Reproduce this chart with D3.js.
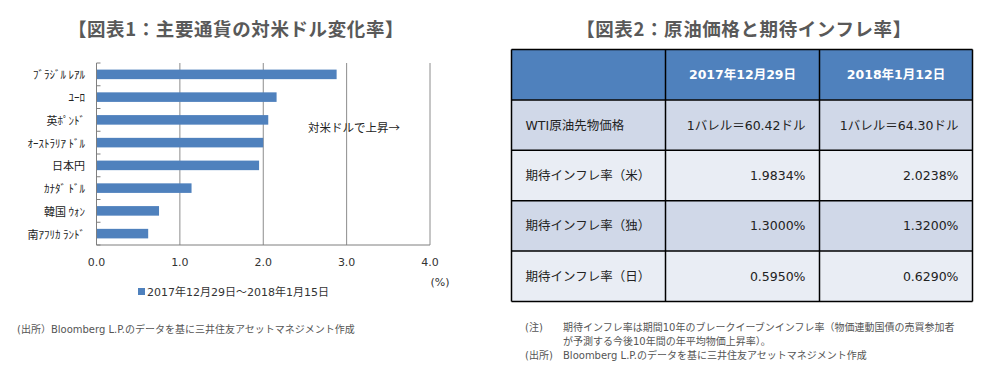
<!DOCTYPE html>
<html>
<head>
<meta charset="utf-8">
<script src="https://cdn.jsdelivr.net/npm/d3@7"></script>
<style>
  body { margin: 0; background: #fff; }
  svg text { font-family: "DejaVu Sans", "Noto Sans CJK JP", sans-serif; }
  svg text.cjk { font-family: "Noto Sans CJK JP", sans-serif; }
</style>
</head>
<body>
<svg id="chart" width="997" height="387"></svg>
<script>
// chart 1 data
const currencies = ["ﾌﾞﾗｼﾞﾙ ﾚｱﾙ", "ﾕｰﾛ", "英ﾎﾟﾝﾄﾞ", "ｵｰｽﾄﾗﾘｱ ﾄﾞﾙ", "日本円", "ｶﾅﾀﾞ ﾄﾞﾙ", "韓国 ｳｫﾝ", "南ｱﾌﾘｶ ﾗﾝﾄﾞ"];
const changes = [2.88, 2.16, 2.06, 2.00, 1.95, 1.14, 0.75, 0.62];
const xTicks = [0, 1, 2, 3, 4];
const legendLabel = "2017年12月29日～2018年1月15日";

// chart 2 table
const tableHeader = ["", "2017年12月29日", "2018年1月12日"];
const rowLabels = ["WTI原油先物価格", "期待インフレ率（米）", "期待インフレ率（独）", "期待インフレ率（日）"];
const col2017 = ["1バレル＝60.42ドル", "1.9834%", "1.3000%", "0.5950%"];
const col2018 = ["1バレル＝64.30ドル", "2.0238%", "1.3200%", "0.6290%"];

const svg = d3.select("#chart");
const blue = "#4f81bd";

// ---------- chart 1 ----------
svg.append("text")
    .attr("class", "cjk")
    .attr("x", 236).attr("y", 28)
    .attr("text-anchor", "middle").attr("dominant-baseline", "central")
    .attr("font-size", 18.5).attr("letter-spacing", 0.6)
    .attr("font-weight", "bold").attr("fill", "#595959")
    .text("【図表1：主要通貨の対米ドル変化率】");

const x = d3.scaleLinear().domain([0, 4]).range([96.5, 430]);
const y = d3.scaleBand().domain(currencies).range([63, 245]).paddingInner(0.58).paddingOuter(0.29);

const g1 = svg.append("g");

// gridlines
g1.selectAll(".grid")
    .data(xTicks.slice(1))
    .enter().append("line")
    .attr("x1", d => x(d)).attr("x2", d => x(d))
    .attr("y1", 63).attr("y2", 245)
    .attr("stroke", "#8c8c8c").attr("stroke-width", 1);

g1.selectAll(".bar")
    .data(changes)
    .enter().append("rect")
    .attr("x", x(0))
    .attr("y", (d, i) => y(currencies[i]))
    .attr("width", d => x(d) - x(0))
    .attr("height", y.bandwidth())
    .attr("fill", blue);

// y axis line and ticks
g1.append("line")
    .attr("x1", x(0)).attr("x2", x(0)).attr("y1", 63).attr("y2", 245)
    .attr("stroke", "#7f7f7f");
const step = y.step();
g1.selectAll(".ytick")
    .data(d3.range(currencies.length + 1))
    .enter().append("line")
    .attr("x1", x(0)).attr("x2", x(0) + 4)
    .attr("y1", i => 63 + i * step).attr("y2", i => 63 + i * step)
    .attr("stroke", "#7f7f7f");

g1.selectAll(".ylab")
    .data(currencies)
    .enter().append("text")
    .attr("class", "cjk")
    .attr("x", 85).attr("y", d => y(d) + y.bandwidth() / 2)
    .attr("text-anchor", "end").attr("dominant-baseline", "central")
    .attr("font-size", 11).attr("fill", "#222")
    .text(d => d);

// x axis
g1.append("line")
    .attr("x1", x(0)).attr("x2", x(4)).attr("y1", 245).attr("y2", 245)
    .attr("stroke", "#7f7f7f");
g1.selectAll(".xlab")
    .data(xTicks)
    .enter().append("text")
    .attr("x", d => x(d)).attr("y", 262)
    .attr("text-anchor", "middle").attr("dominant-baseline", "central")
    .attr("font-size", 11).attr("fill", "#333")
    .text(d => d.toFixed(1));

svg.append("text")
    .attr("x", 440).attr("y", 282)
    .attr("text-anchor", "middle").attr("dominant-baseline", "central")
    .attr("font-size", 11).attr("fill", "#333")
    .text("(%)");

// legend
svg.append("rect").attr("x", 138).attr("y", 288).attr("width", 7).attr("height", 7).attr("fill", blue);
svg.append("text")
    .attr("x", 147).attr("y", 292)
    .attr("dominant-baseline", "central")
    .attr("font-size", 11).attr("fill", "#333")
    .text(legendLabel);

svg.append("text")
    .attr("class", "cjk")
    .attr("x", 308).attr("y", 127)
    .attr("dominant-baseline", "central")
    .attr("font-size", 11.5).attr("fill", "#222")
    .text("対米ドルで上昇→");

svg.append("text")
    .attr("x", 17).attr("y", 329)
    .attr("dominant-baseline", "central")
    .attr("font-size", 10).attr("fill", "#555")
    .text("(出所）Bloomberg L.P.のデータを基に三井住友アセットマネジメント作成");

// ---------- chart 2 ----------
svg.append("text")
    .attr("class", "cjk")
    .attr("x", 744).attr("y", 28)
    .attr("text-anchor", "middle").attr("dominant-baseline", "central")
    .attr("font-size", 18.5).attr("letter-spacing", 0.6)
    .attr("font-weight", "bold").attr("fill", "#595959")
    .text("【図表2：原油価格と期待インフレ率】");

const colX = [511.5, 665.5, 819.5, 972.5];
const rowH = 50.4, tableTop = 49.5;
const rows = rowLabels.map((d, i) => [d, col2017[i], col2018[i]]);
const allRows = [tableHeader].concat(rows);
const g2 = svg.append("g");

allRows.forEach((r, i) => {
    const fill = i === 0 ? blue : (i % 2 === 1 ? "#d0d8e8" : "#e9edf4");
    g2.append("rect")
        .attr("x", colX[0]).attr("y", tableTop + i * rowH)
        .attr("width", colX[3] - colX[0]).attr("height", rowH)
        .attr("fill", fill);
    r.forEach((c, j) => {
        const t = g2.append("text")
            .attr("y", tableTop + i * rowH + rowH / 2)
            .attr("dominant-baseline", "central")
            .attr("font-size", 12.5)
            .text(c);
        if (i === 0) {
            t.attr("x", (colX[j] + colX[j + 1]) / 2).attr("text-anchor", "middle")
             .attr("fill", "#fff").attr("font-weight", "bold");
        } else if (j === 0) {
            t.attr("x", colX[0] + 14).attr("fill", "#222");
        } else {
            t.attr("x", colX[j + 1] - 14).attr("text-anchor", "end").attr("fill", "#222");
        }
    });
});

// borders
g2.selectAll(".hline")
    .data(d3.range(allRows.length + 1))
    .enter().append("line")
    .attr("x1", colX[0]).attr("x2", colX[3])
    .attr("y1", i => tableTop + i * rowH).attr("y2", i => tableTop + i * rowH)
    .attr("stroke", "#000").attr("stroke-width", 1.5);
g2.selectAll(".vline")
    .data(colX)
    .enter().append("line")
    .attr("x1", d => d).attr("x2", d => d)
    .attr("y1", tableTop).attr("y2", tableTop + allRows.length * rowH)
    .attr("stroke", "#000").attr("stroke-width", 1.5);

const notes = [
    ["(注)", "期待インフレ率は期間10年のブレークイーブンインフレ率（物価連動国債の売買参加者"],
    ["", "が予測する今後10年間の年平均物価上昇率）。"],
    ["(出所)", "Bloomberg L.P.のデータを基に三井住友アセットマネジメント作成"]
];
const noteY = [327, 341, 355];
notes.forEach((n, i) => {
    svg.append("text").attr("x", 525).attr("y", noteY[i])
        .attr("dominant-baseline", "central").attr("font-size", 10).attr("fill", "#555")
        .text(n[0]);
    svg.append("text").attr("x", 563).attr("y", noteY[i])
        .attr("dominant-baseline", "central").attr("font-size", 10).attr("fill", "#555")
        .text(n[1]);
});
</script>
</body>
</html>
